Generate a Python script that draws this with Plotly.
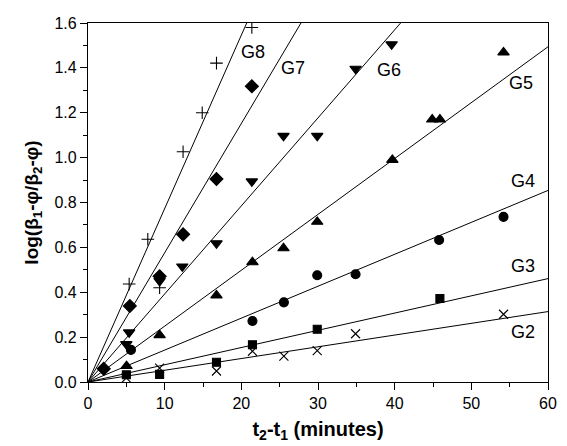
import plotly.graph_objects as go

# Measured points per group: elapsed time t2-t1 (minutes) and log ratio
g2_x = [5.0, 9.34, 16.76, 21.45, 25.55, 29.9, 34.9, 54.2]
g2_y = [0.018, 0.062, 0.049, 0.137, 0.115, 0.14, 0.215, 0.302]

g3_x = [5.0, 9.34, 16.76, 21.45, 29.9, 45.9]
g3_y = [0.032, 0.034, 0.088, 0.166, 0.235, 0.372]

g4_x = [5.6, 21.45, 25.55, 29.9, 34.9, 45.8, 54.2]
g4_y = [0.143, 0.272, 0.355, 0.476, 0.48, 0.633, 0.736]

g5_x = [5.03, 9.34, 16.76, 21.45, 25.5, 29.9, 39.7, 44.9, 45.9, 54.2]
g5_y = [0.071, 0.209, 0.386, 0.534, 0.596, 0.714, 0.99, 1.17, 1.17, 1.469]

g6_x = [5.0, 5.37, 9.34, 12.3, 16.76, 21.37, 25.5, 29.9, 34.9, 39.6]
g6_y = [0.169, 0.221, 0.45, 0.515, 0.618, 0.894, 1.097, 1.097, 1.396, 1.505]

g7_x = [2.05, 5.46, 9.34, 12.4, 16.76, 21.37]
g7_y = [0.059, 0.339, 0.471, 0.658, 0.905, 1.318]

g8_x = [5.37, 7.8, 9.34, 12.4, 14.9, 16.76, 21.37]
g8_y = [0.437, 0.636, 0.42, 1.026, 1.20, 1.421, 1.58]

group_names = ["G2", "G3", "G4", "G5", "G6", "G7", "G8"]
# Slopes of the fitted lines through the origin
fit_slopes = [0.00523, 0.00768, 0.01423, 0.0249, 0.03924, 0.0576, 0.0773]
# Where each group name is written
label_x = [56.7, 56.7, 56.8, 56.5, 39.3, 26.7, 21.5]
label_y = [0.221, 0.515, 0.898, 1.333, 1.39, 1.40, 1.47]

xs = [g2_x, g3_x, g4_x, g5_x, g6_x, g7_x, g8_x]
ys = [g2_y, g3_y, g4_y, g5_y, g6_y, g7_y, g8_y]
symbols = ["x-thin-open", "square", "circle", "triangle-up",
           "triangle-down", "diamond", "cross-thin-open"]
sizes = [9, 8, 9, 10, 10, 10, 9]

X_MAX, Y_MAX = 60, 1.6
FONT = "Liberation Sans, Arial, sans-serif"

fig = go.Figure()

for name, slope in zip(group_names, fit_slopes):
    x_end = min(X_MAX, Y_MAX / slope)
    fig.add_trace(go.Scatter(
        x=[0, x_end], y=[0, slope * x_end], mode="lines",
        line=dict(color="black", width=1), showlegend=False, hoverinfo="skip"))

for name, x, y, sym, sz in zip(group_names, xs, ys, symbols, sizes):
    fig.add_trace(go.Scatter(
        x=x, y=y, mode="markers", name=name, showlegend=False,
        marker=dict(symbol=sym, size=sz, color="black",
                    line=dict(color="black", width=1.1))))

for name, lx, ly in zip(group_names, label_x, label_y):
    fig.add_annotation(x=lx, y=ly, text=name, showarrow=False,
                       font=dict(size=18, color="black", family=FONT))

axis_common = dict(
    showgrid=False, zeroline=False, showline=True, linecolor="black",
    linewidth=1.3, mirror=True, ticks="outside", tickcolor="black",
    tickwidth=1.2, ticklen=7,
    tickfont=dict(size=16, color="black", family=FONT),
)

fig.update_xaxes(
    range=[0, X_MAX], tick0=0, dtick=10,
    minor=dict(ticks="outside", dtick=5, ticklen=4, tickcolor="black"),
    title=dict(text="<b>t<sub>2</sub>-t<sub>1</sub> (minutes)</b>",
               font=dict(size=20, color="black", family=FONT),
               standoff=10),
    **axis_common)
fig.update_yaxes(
    range=[0, Y_MAX], tick0=0, dtick=0.2, tickformat=".1f",
    minor=dict(ticks="outside", dtick=0.1, ticklen=4, tickcolor="black"),
    title=dict(text="<b>log(β<sub>1</sub>-φ/β<sub>2</sub>-φ)</b>",
               font=dict(size=19, color="black", family=FONT),
               standoff=10),
    **axis_common)

fig.update_layout(
    width=567, height=446,
    margin=dict(l=88, r=10, t=23, b=61),
    plot_bgcolor="white", paper_bgcolor="white",
)

fig.write_html("out.html")
